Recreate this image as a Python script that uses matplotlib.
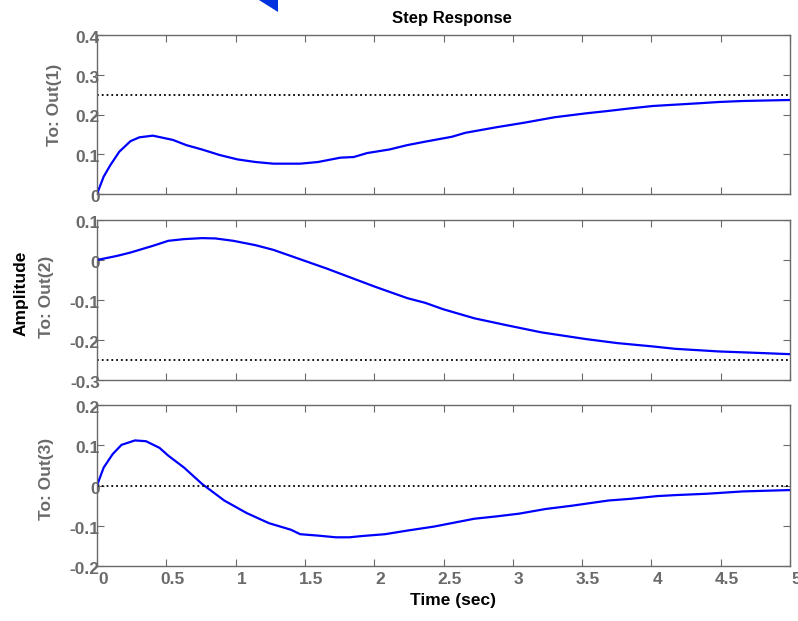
import matplotlib
matplotlib.use("Agg")
import matplotlib.pyplot as plt
import matplotlib.transforms as mtransforms
from matplotlib.patches import Polygon

plt.rcParams['font.family'] = ['Liberation Sans', 'DejaVu Sans']
plt.rcParams['font.weight'] = 'bold'

# step response samples for each output channel
t1 = [0, 0.048, 0.097, 0.161, 0.242, 0.306, 0.403, 0.548, 0.644, 0.757, 0.886, 1.014,
      1.143, 1.272, 1.466, 1.595, 1.756, 1.852, 1.949, 2.11, 2.239, 2.368, 2.561, 2.658,
      2.883, 3.077, 3.3, 3.53, 3.69, 3.85, 4.01, 4.17, 4.33, 4.49, 4.66, 5.0]
y1 = [0, 0.0436, 0.073, 0.1065, 0.133, 0.1426, 0.1468, 0.136, 0.123, 0.112, 0.098, 0.087,
      0.0805, 0.0763, 0.0763, 0.0805, 0.0914, 0.093, 0.103, 0.112, 0.123, 0.1317, 0.144, 0.154,
      0.168, 0.179, 0.193, 0.203, 0.209, 0.2155, 0.2214, 0.2247, 0.228, 0.2315, 0.234, 0.2365]

t2 = [0, 0.145, 0.242, 0.403, 0.515, 0.628, 0.757, 0.854, 0.983, 1.143, 1.272, 1.466,
      1.659, 1.82, 2.013, 2.239, 2.368, 2.497, 2.722, 2.948, 3.206, 3.528, 3.753, 4.01,
      4.17, 4.49, 4.75, 5.0]
y2 = [0, 0.0103, 0.0187, 0.0354, 0.048, 0.0522, 0.0547, 0.0539, 0.048, 0.0371, 0.0254, 0.0019,
      -0.0216, -0.0426, -0.0677, -0.0954, -0.1071, -0.123, -0.1457, -0.1625, -0.1809, -0.1977,
      -0.2077, -0.2161, -0.222, -0.2287, -0.232, -0.2354]

t3 = [0, 0.048, 0.113, 0.177, 0.274, 0.354, 0.451, 0.515, 0.628, 0.757, 0.918, 1.079,
      1.24, 1.4, 1.466, 1.595, 1.724, 1.82, 1.917, 2.078, 2.239, 2.432, 2.722, 2.883,
      3.045, 3.238, 3.431, 3.69, 3.85, 4.04, 4.17, 4.4, 4.66, 5.0]
y3 = [0, 0.0445, 0.078, 0.101, 0.112, 0.110, 0.0935, 0.074, 0.0445, 0.0042, -0.0373, -0.0683,
      -0.0935, -0.110, -0.121, -0.1245, -0.1287, -0.1287, -0.1254, -0.121, -0.112, -0.102,
      -0.0826, -0.0767, -0.070, -0.0583, -0.050, -0.0373, -0.0331, -0.0264, -0.0239, -0.0205,
      -0.0147, -0.0113]

steady = [0.25, -0.25, 0.0]
ylims = [(0, 0.4), (-0.3, 0.1), (-0.2, 0.2)]
yticks = [[0, 0.1, 0.2, 0.3, 0.4],
          [-0.3, -0.2, -0.1, 0, 0.1],
          [-0.2, -0.1, 0, 0.1, 0.2]]
ytick_labels = [['0', '0.1', '0.2', '0.3', '0.4'],
                ['-0.3', '-0.2', '-0.1', '0', '0.1'],
                ['-0.2', '-0.1', '0', '0.1', '0.2']]
xticks = [0, 0.5, 1, 1.5, 2, 2.5, 3, 3.5, 4, 4.5, 5]
xtick_labels = ['0', '0.5', '1', '1.5', '2', '2.5', '3', '3.5', '4', '4.5', '5']
out_names = ['To: Out(1)', 'To: Out(2)', 'To: Out(3)']

W, H = 798, 621
gray = '#6a6a6a'
fig = plt.figure(figsize=(W / 100, H / 100), dpi=100)

# panel boxes in pixels: (top, bottom)
boxes = [(35, 194), (220, 380), (405, 566)]
left_px, right_px = 97, 790
label_pos = [(54, 104.5), (46, 296.5), (46, 478.5)]

series = [(t1, y1), (t2, y2), (t3, y3)]
for i, (top, bot) in enumerate(boxes):
    ax = fig.add_axes([left_px / W, 1 - bot / H, (right_px - left_px) / W, (bot - top) / H])
    t, y = series[i]
    ax.plot(t, y, color='#0000ff', lw=1.6)
    ax.axhline(steady[i], color='black', ls=':', lw=1.3)
    ax.set_xlim(0, 5)
    ax.set_ylim(*ylims[i])
    ax.set_yticks(yticks[i])
    ax.set_yticklabels(ytick_labels[i])
    ax.set_xticks(xticks)
    ax.set_xticklabels(xtick_labels if i == 2 else [])
    ax.tick_params(direction='in', length=5, width=0.8, color=gray,
                   top=True, right=True, labelsize=12.5, labelcolor=gray)
    ax.tick_params(axis='y', pad=-2)
    ax.tick_params(axis='x', pad=4)
    # nudge tick labels the way the original toolbox lays them out
    xoff = mtransforms.ScaledTranslation(0.06, 0, fig.dpi_scale_trans)
    yoff = mtransforms.ScaledTranslation(0, -0.02, fig.dpi_scale_trans)
    for tk in ax.xaxis.get_major_ticks():
        tk.label1.set_transform(tk.label1.get_transform() + xoff)
        tk.label1.set_fontweight('bold')
    for tk in ax.yaxis.get_major_ticks():
        tk.label1.set_transform(tk.label1.get_transform() + yoff)
        tk.label1.set_fontweight('bold')
    for sp in ax.spines.values():
        sp.set_color(gray)
        sp.set_linewidth(1.0)
    lx, ly = label_pos[i]
    fig.text(lx / W, 1 - ly / H, out_names[i], rotation=90, color=gray,
             fontsize=12.5, fontweight='bold', ha='center', va='center')

fig.text(452 / W, 1 - 19 / H, 'Step Response', fontsize=12, fontweight='bold',
         ha='center', va='center', color='black')
fig.text(453 / W, 1 - 601 / H, 'Time (sec)', fontsize=12.5, fontweight='bold',
         ha='center', va='center', color='black')
fig.text(21.5 / W, 1 - 293.5 / H, 'Amplitude', rotation=90, fontsize=12.5,
         fontweight='bold', ha='center', va='center', color='black')

# small blue arrow tip at the top edge
tip = [(259 / W, 1.0), (277.5 / W, 1.0), (277.5 / W, 1 - 12 / H)]
fig.patches.append(Polygon(tip, closed=True, transform=fig.transFigure,
                           facecolor='#0033dd', edgecolor='none'))

fig.savefig('out.png', dpi=100)
